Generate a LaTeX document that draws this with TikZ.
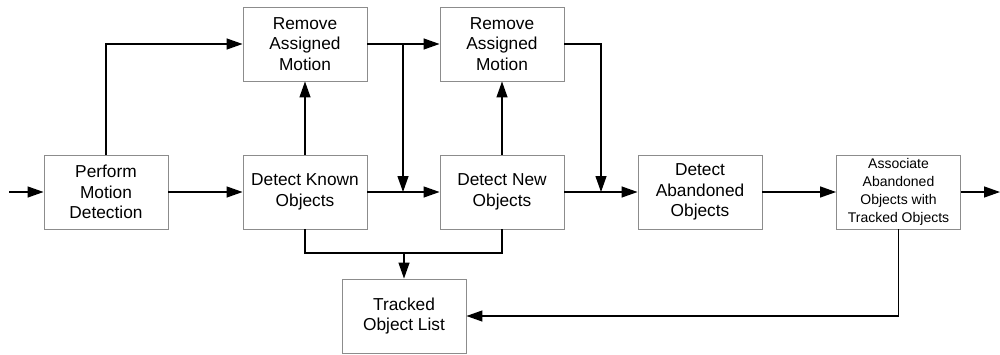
\documentclass[tikz,border=0pt]{standalone}
\usepackage{fontspec}
\setmainfont{Liberation Sans}
\usetikzlibrary{arrows.meta}
\begin{document}
\begin{tikzpicture}[x=1pt,y=-1pt,
  blk/.style={draw=black!45,line width=0.9pt,minimum width=124pt,minimum height=74pt,inner sep=0pt,align=center,font=\fontsize{17.3}{20.5}\selectfont},
  smallblk/.style={blk,font=\fontsize{14}{17.8}\selectfont},
  arr/.style={line width=1.3pt,-{Triangle[length=16pt,width=11pt]}},
  ln/.style={line width=1.3pt}]
\useasboundingbox (0,0) rectangle (1000,354);
\node[blk] (perform) at (106,192) {Perform\\Motion\\Detection};
\node[blk] (rem1) at (305,44) {Remove\\Assigned\\Motion};
\node[blk] (rem2) at (502,44) {Remove\\Assigned\\Motion};
\node[blk] (known) at (305,192) {Detect Known\\Objects};
\node[blk] (new) at (502,192) {Detect New\\Objects};
\node[blk] (aband) at (700,192) {Detect\\Abandoned\\Objects};
\node[smallblk] (assoc) at (898.5,192) {Associate\\Abandoned\\Objects with\\Tracked Objects};
\node[blk] (tracked) at (404,316) {Tracked\\Object List};
\coordinate (start) at (9,192);
\coordinate (end) at (1000,192);
\coordinate (br1) at (403,44);
\coordinate (br2) at (601,44);
\coordinate (jn) at (404,253);
\draw[arr] (start) -- (perform.west);
\draw[arr] (perform.east) -- (known.west);
\draw[arr] (perform.north) |- (rem1.west);
\draw[arr] (known.north) -- (rem1.south);
\draw[arr] (rem1.east) -- (rem2.west);
\draw[arr] (br1) -- (br1 |- known.east);
\draw[arr] (known.east) -- (new.west);
\draw[arr] (new.north) -- (rem2.south);
\draw[arr] (rem2.east) -| (br2 |- new.east);
\draw[arr] (new.east) -- (aband.west);
\draw[arr] (aband.east) -- (assoc.west);
\draw[arr] (assoc.east) -- (end);
\draw[ln] (known.south) |- (jn) -| (new.south);
\draw[arr] (jn) -- (tracked.north);
\draw[arr] (assoc.south) |- (tracked.east);
\end{tikzpicture}
\end{document}
